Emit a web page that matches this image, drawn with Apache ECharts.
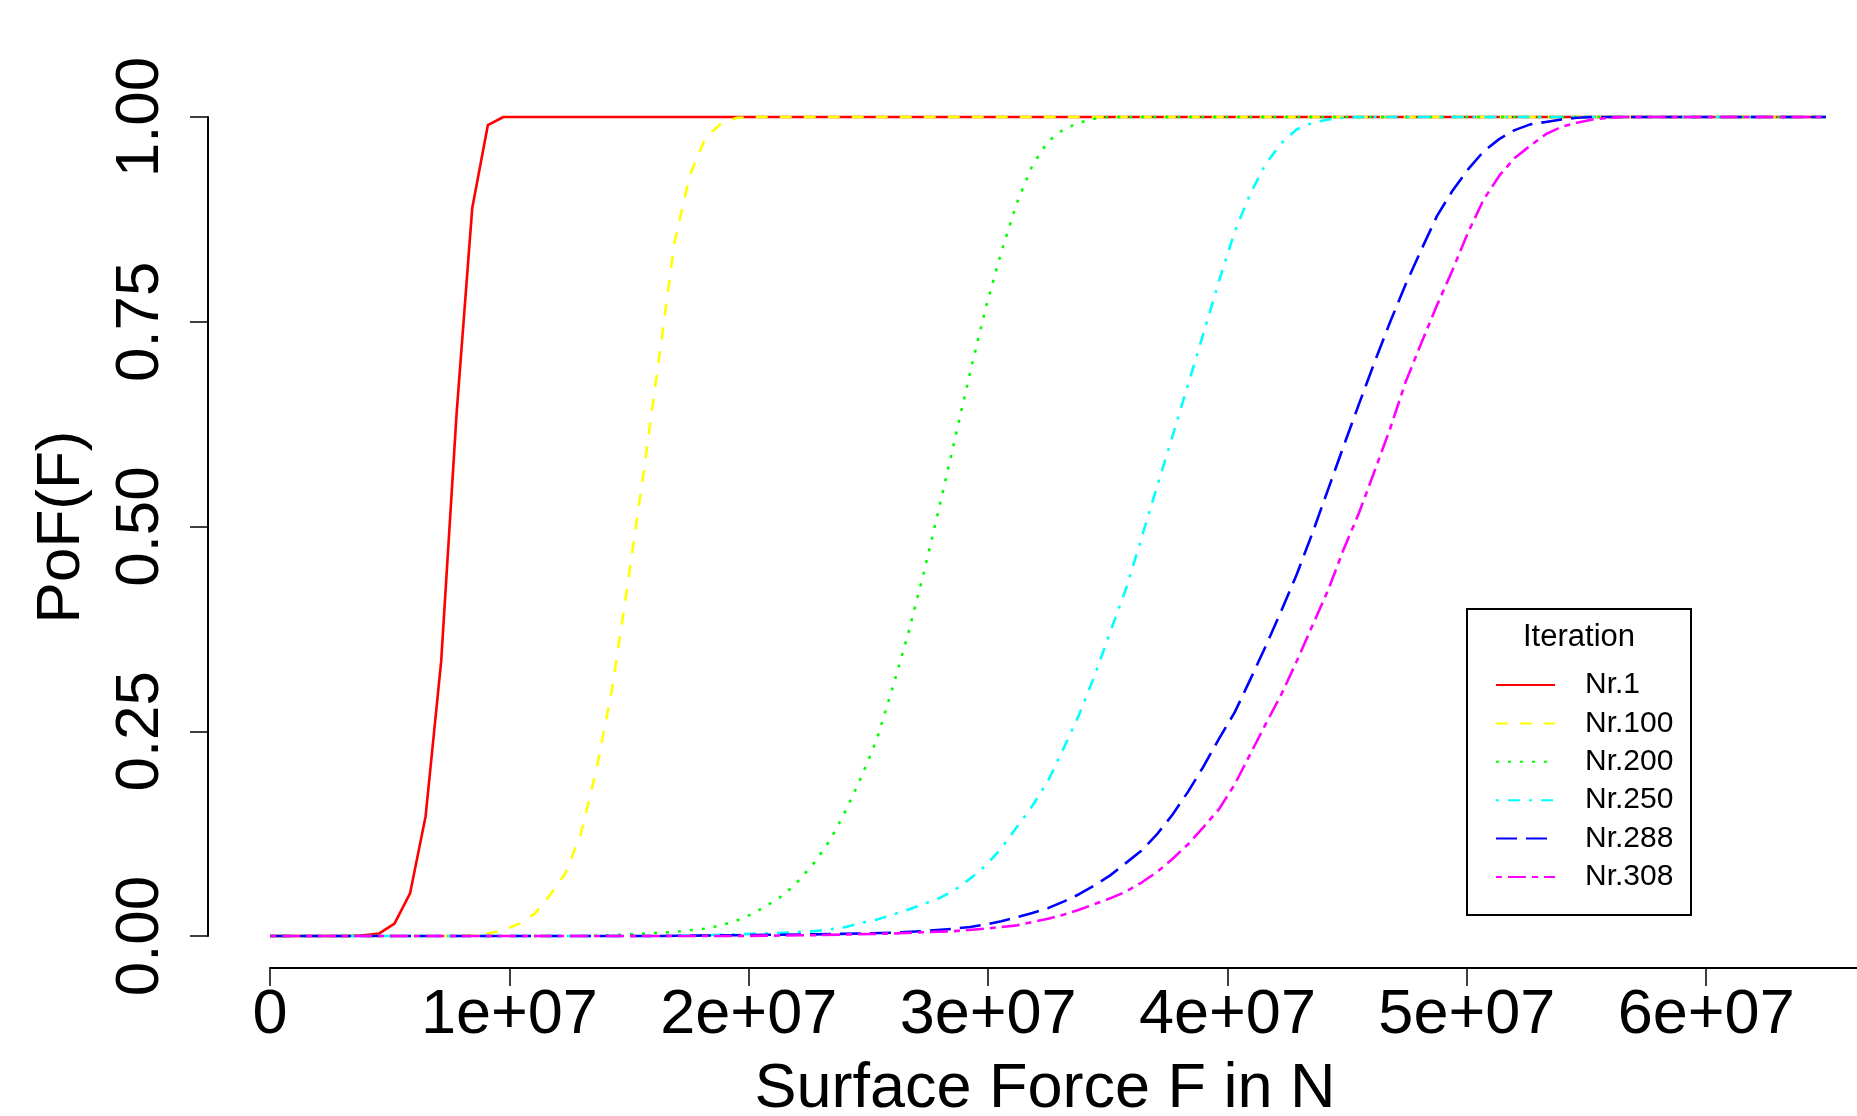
<!DOCTYPE html>
<html><head><meta charset="utf-8">
<script src="https://cdn.jsdelivr.net/npm/echarts@6/dist/echarts.min.js"></script>
<style>html,body{margin:0;padding:0;background:#fff}#chart{width:1857px;height:1116px}</style>
</head><body><div id="chart"></div>
<script>
// ---- data (force in MN, probability of failure) ----
const seriesNames = ['Nr.1', 'Nr.100', 'Nr.200', 'Nr.250', 'Nr.288', 'Nr.308'];
const seriesColors = ['#FF0000', '#FFFF00', '#00FF00', '#00FFFF', '#0000FF', '#FF00FF'];
const seriesDash = ['solid', [12, 12], [3, 9], [3, 9, 12, 9], [21, 9], [6, 6, 18, 6]];

const nr1 = [[0,0],[3.25,0],[3.9,0.001],[4.55,0.003],[5.2,0.015],[5.85,0.052],[6.5,0.146],[7.15,0.335],[7.8,0.64],[8.45,0.889],[9.1,0.99],[9.75,1],[65,1]];
const nr100 = [[0,0],[7.8,0],[8.45,0.001],[9.1,0.003],[9.75,0.007],[10.4,0.015],[11.05,0.027],[11.7,0.05],[12.35,0.077],[13,0.126],[13.65,0.205],[14.3,0.303],[14.95,0.431],[15.6,0.564],[16.25,0.705],[16.9,0.847],[17.55,0.93],[18.2,0.975],[18.85,0.992],[19.5,0.999],[20.15,1],[65,1]];
const nr200 = [[0,0],[13,0],[14.3,0.001],[15.6,0.003],[16.9,0.005],[18.2,0.009],[18.85,0.013],[19.5,0.019],[20.15,0.027],[20.8,0.038],[21.45,0.05],[22.1,0.068],[22.75,0.09],[23.4,0.117],[24.05,0.153],[24.7,0.194],[25.35,0.24],[26,0.302],[26.65,0.368],[27.3,0.442],[27.95,0.522],[28.6,0.605],[29.25,0.688],[29.9,0.767],[30.55,0.835],[31.2,0.895],[31.85,0.941],[32.5,0.97],[33.15,0.985],[33.8,0.993],[34.45,0.998],[35.1,1],[65,1]];
const nr250 = [[0,0],[16.25,0],[18.2,0.001],[19.5,0.002],[20.8,0.003],[22.1,0.005],[22.75,0.006],[23.4,0.008],[24.05,0.011],[24.7,0.016],[25.35,0.02],[26,0.026],[26.65,0.032],[27.3,0.039],[27.95,0.046],[28.6,0.056],[29.25,0.07],[29.9,0.086],[30.55,0.107],[31.2,0.133],[31.85,0.159],[32.5,0.189],[33.15,0.229],[33.8,0.27],[34.45,0.318],[35.1,0.371],[35.75,0.423],[36.4,0.485],[37.05,0.548],[37.7,0.61],[38.35,0.673],[39,0.736],[39.65,0.8],[40.3,0.86],[40.95,0.906],[41.6,0.943],[42.25,0.968],[42.9,0.985],[43.55,0.993],[44.2,0.997],[44.85,0.999],[45.5,1],[65,1]];
const nr288 = [[0,0],[16.25,0],[19.5,0.001],[22.75,0.002],[24.7,0.003],[26,0.004],[27.3,0.006],[28.6,0.009],[29.25,0.011],[29.9,0.014],[30.55,0.018],[31.2,0.023],[31.85,0.028],[32.5,0.034],[33.15,0.042],[33.8,0.051],[34.45,0.062],[35.1,0.074],[35.75,0.089],[36.4,0.104],[37.05,0.124],[37.7,0.148],[38.35,0.176],[39,0.207],[39.65,0.241],[40.3,0.273],[40.95,0.313],[41.6,0.354],[42.25,0.397],[42.9,0.442],[43.55,0.492],[44.2,0.545],[44.85,0.598],[45.5,0.65],[46.15,0.701],[46.8,0.75],[47.45,0.796],[48.1,0.838],[48.75,0.879],[49.4,0.91],[50.05,0.936],[50.7,0.958],[51.35,0.973],[52,0.984],[52.65,0.991],[53.3,0.994],[53.95,0.997],[54.6,0.999],[55.25,1],[65,1]];
const nr308 = [[0,0],[19.5,0],[22.75,0.001],[26,0.003],[28.6,0.006],[29.9,0.009],[30.55,0.011],[31.2,0.013],[31.85,0.017],[32.5,0.021],[33.15,0.026],[33.8,0.032],[34.45,0.039],[35.1,0.046],[35.75,0.054],[36.4,0.065],[37.05,0.078],[37.7,0.094],[38.35,0.112],[39,0.133],[39.65,0.155],[40.3,0.185],[40.95,0.222],[41.6,0.259],[42.25,0.295],[42.9,0.336],[43.55,0.379],[44.2,0.422],[44.85,0.472],[45.5,0.517],[46.15,0.568],[46.8,0.62],[47.45,0.677],[48.1,0.724],[48.75,0.77],[49.4,0.813],[50.05,0.859],[50.7,0.899],[51.35,0.928],[52,0.95],[52.65,0.965],[53.3,0.979],[53.95,0.988],[54.6,0.993],[55.25,0.997],[55.9,0.999],[56.55,1],[65,1]];

const xTickValues = [0, 1e7, 2e7, 3e7, 4e7, 5e7, 6e7];
const xTickLabels = ['0', '1e+07', '2e+07', '3e+07', '4e+07', '5e+07', '6e+07'];
const yTickValues = [0, 0.25, 0.5, 0.75, 1];
const yTickLabels = ['0.00', '0.25', '0.50', '0.75', '1.00'];

const xTitle = 'Surface Force F in N';
const yTitle = 'PoF(F)';
const legendTitle = 'Iteration';

// ---- build ----
const FONT = "'Liberation Sans', Arial, Helvetica, sans-serif";
const allData = [nr1, nr100, nr200, nr250, nr288, nr308];

const series = allData.map((pairs, i) => ({
  name: seriesNames[i],
  type: 'line',
  data: pairs.map(([f, p]) => [f * 1e6, p]),
  symbol: 'none',
  showSymbol: false,
  clip: false,
  smooth: false,
  lineStyle: { color: seriesColors[i], width: 2.6, type: seriesDash[i], cap: 'butt', join: 'round' },
  itemStyle: { color: seriesColors[i] },
  emphasis: { disabled: true },
  animation: false
}));

const chart = echarts.init(document.getElementById('chart'), null, { renderer: 'canvas' });
chart.setOption({
  backgroundColor: '#ffffff',
  animation: false,
  grid: { left: 270, right: 0, top: 117, bottom: 180, containLabel: false },
  xAxis: {
    type: 'value', min: 0, max: 6.63e7, offset: 32,
    axisLine: { show: true, onZero: false, lineStyle: { color: '#000', width: 2 } },
    axisTick: { show: true, length: 18, inside: false, customValues: xTickValues, lineStyle: { color: '#000', width: 1.5 } },
    axisLabel: {
      customValues: xTickValues, margin: 16, color: '#000', fontSize: 63, lineHeight: 63, fontFamily: FONT,
      formatter: v => xTickLabels[xTickValues.indexOf(v)]
    },
    splitLine: { show: false }
  },
  yAxis: {
    type: 'value', min: 0, max: 1, offset: 62,
    axisLine: { show: true, onZero: false, lineStyle: { color: '#000', width: 2 } },
    axisTick: { show: true, length: 18, customValues: yTickValues, lineStyle: { color: '#000', width: 1.5 } },
    axisLabel: {
      customValues: yTickValues, rotate: 90, margin: 36, color: '#000', fontSize: 62, lineHeight: 62, fontFamily: FONT,
      formatter: v => yTickLabels[yTickValues.indexOf(v)]
    },
    splitLine: { show: false }
  },
  legend: {
    orient: 'vertical', left: 1495, top: 670, padding: 0,
    itemWidth: 59, itemHeight: 14, itemGap: 8.4,
    selectedMode: false,
    itemStyle: { opacity: 0 },
    textStyle: { fontSize: 30, lineHeight: 30, color: '#000', fontFamily: FONT, padding: [0, 0, 0, 25] },
    data: seriesNames
  },
  graphic: [
    { type: 'rect', shape: { x: 1467, y: 609, width: 224, height: 306 }, style: { fill: 'none', stroke: '#000', lineWidth: 2 }, z: 10 },
    { type: 'text', x: 1579, y: 637, style: { text: legendTitle, fontSize: 31, fontFamily: FONT, fill: '#000', align: 'center', verticalAlign: 'middle' }, z: 10 },
    { type: 'text', x: 1045, y: 1090, style: { text: xTitle, fontSize: 63, fontFamily: FONT, fill: '#000', align: 'center', verticalAlign: 'middle' } },
    { type: 'text', x: 62, y: 527, rotation: Math.PI / 2, style: { text: yTitle, fontSize: 62, fontFamily: FONT, fill: '#000', align: 'center', verticalAlign: 'middle' } }
  ],
  series: series
});
</script>
</body></html>
